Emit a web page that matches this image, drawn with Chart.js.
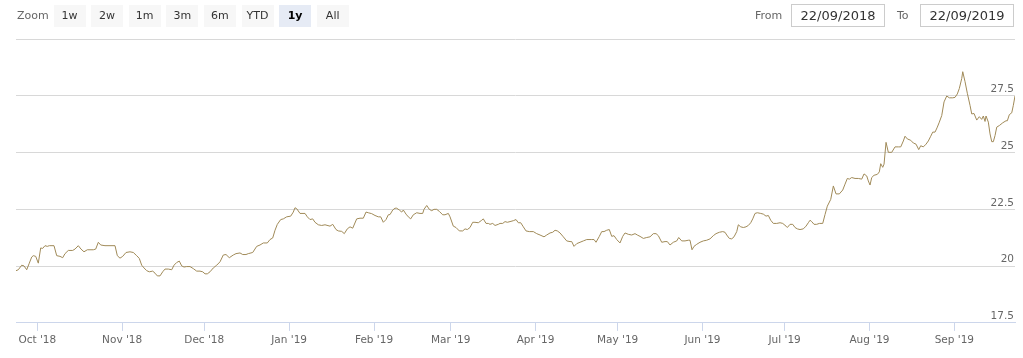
<!DOCTYPE html>
<html>
<head>
<meta charset="utf-8">
<script src="https://cdn.jsdelivr.net/npm/chart.js@4.4.1/dist/chart.umd.min.js"></script>
<style>
  html, body { margin: 0; padding: 0; background: #fff; }
  #wrap { position: relative; width: 1023px; height: 358px; overflow: hidden; font-family: "DejaVu Sans", Verdana, sans-serif; }
  #c { position: absolute; left: 0; top: 0; }
  .lbl { position: absolute; top: 5px; height: 22px; line-height: 22px; font-size: 11px; color: #666; }
  .btn { position: absolute; top: 5px; width: 32px; height: 22px; line-height: 22px; text-align: center; font-size: 11px; color: #333; background: #f7f7f7; }
  .btn.sel { background: #e6ebf5; color: #000; font-weight: bold; }
  .inp { position: absolute; top: 4px; width: 92px; height: 21px; line-height: 21px; border: 1px solid #cccccc; text-align: center; font-size: 13px; color: #333; }
</style>
</head>
<body>
<div id="wrap">
  <canvas id="c" width="1023" height="358"></canvas>
  <div class="lbl" style="left:17px;">Zoom</div>
  <div id="btns"></div>
  <div class="lbl" style="left:755px;">From</div>
  <div class="inp" style="left:791px;">22/09/2018</div>
  <div class="lbl" style="left:897px;">To</div>
  <div class="inp" style="left:920px;">22/09/2019</div>
</div>
<script>
// ---- data (days since 22 Sep 2018, price) ----
const days = [
1.22,2.06,3.30,4.14,5.13,6.08,6.96,7.54,8.42,9.37,10.24,10.97,11.81,12.65,13.39,15.10,16.09,17.29,18.28,19.12,
20.33,21.93,22.77,23.98,24.97,26.06,27.27,29.46,30.34,31.29,32.16,33.73,35.56,37.39,38.23,39.21,40.20,41.40,42.87,44.07,
45.31,46.26,47.14,47.98,48.97,49.92,51.16,52.00,52.84,53.83,54.81,55.65,56.86,58.10,58.94,59.93,60.88,61.75,62.59,63.58,
64.79,65.99,67.23,68.44,69.43,70.27,71.11,72.09,73.30,74.54,75.75,76.95,77.94,79.14,80.60,81.59,83.05,84.04,85.24,86.08,
87.69,89.15,90.36,91.56,93.02,94.01,95.00,95.84,96.68,97.92,98.87,100.11,101.57,102.52,103.14,103.76,104.97,106.80,107.64,108.62,
109.61,110.45,111.66,112.90,114.10,115.93,116.92,118.12,118.96,120.20,121.15,122.25,123.24,124.22,125.68,126.89,128.10,129.08,129.92,131.16,
132.37,133.58,134.45,135.40,136.39,137.23,137.85,138.84,139.68,140.30,141.25,142.12,142.71,143.70,144.53,145.41,146.36,147.60,148.81,149.79,
150.27,151.26,152.21,153.08,153.92,154.91,155.86,157.10,157.94,159.15,159.77,160.97,161.96,163.17,164.41,165.25,166.09,167.08,168.06,168.90,
170.11,171.35,171.93,172.92,173.76,174.38,175.37,176.21,177.41,178.03,179.02,179.86,180.70,181.69,182.89,183.88,184.72,185.60,186.55,187.53,
188.74,190.20,191.44,192.65,194.11,195.10,196.30,197.29,198.13,198.97,199.96,201.16,202.40,203.61,204.23,205.07,206.06,207.26,208.47,209.71,
211.54,212.38,213.10,214.31,215.19,216.03,217.01,217.96,218.84,219.68,220.67,221.87,222.86,223.70,224.90,226.15,227.35,228.19,229.18,230.39,
231.63,232.83,234.04,235.03,235.87,237.11,238.31,239.15,240.14,241.34,242.59,243.32,244.41,245.62,246.82,247.44,248.17,248.90,249.89,251.10,
252.30,253.54,254.75,255.95,256.94,258.15,259.39,260.23,260.85,261.80,262.68,263.52,264.51,265.09,265.97,266.92,267.90,268.74,269.62,270.35,
271.19,272.03,273.27,274.22,275.21,276.05,276.92,277.88,279.12,280.33,281.31,282.52,282.99,283.98,284.96,285.80,286.64,287.63,288.83,289.82,
290.66,291.28,291.90,292.74,293.73,294.68,295.92,296.76,297.60,298.85,299.80,300.78,301.99,303.23,304.07,304.91,305.64,306.52,307.72,308.93,
310.17,311.01,312.00,312.58,313.20,313.82,314.66,315.87,316.60,317.11,317.84,318.32,319.05,319.89,321.13,322.33,323.54,324.42,325.37,325.99,
326.83,328.07,329.02,330.01,330.99,331.72,332.67,333.66,334.50,335.38,336.11,336.95,337.79,338.52,339.40,340.24,341.22,342.17,343.41,344.25,
345.09,345.82,346.70,347.07,347.91,348.75,349.73,350.35,351.19,352.18,353.13,354.00,354.59,355.21,355.58,356.42,357.04,357.66,358.25,358.87,
359.49,360.44,361.68,362.88,363.36,364.09,364.97,365.55,366.16
];
const prices = [
19.80,19.84,20.04,20.01,19.84,20.13,20.40,20.46,20.43,20.13,20.80,20.78,20.90,20.87,20.90,20.90,20.46,20.43,20.37,20.55,
20.69,20.69,20.75,20.90,20.75,20.63,20.72,20.72,20.75,21.05,20.93,20.90,20.90,20.90,20.46,20.35,20.43,20.60,20.63,20.60,
20.46,20.34,20.04,19.92,19.80,19.75,19.78,19.69,19.57,19.57,19.75,19.87,19.87,19.84,20.04,20.16,20.22,20.01,19.96,19.98,
19.98,19.89,19.78,19.78,19.75,19.66,19.66,19.75,19.92,20.04,20.19,20.49,20.51,20.37,20.49,20.55,20.58,20.51,20.51,20.55,
20.60,20.87,20.93,21.02,21.02,21.17,21.24,21.58,21.84,22.05,22.08,22.17,22.20,22.38,22.57,22.53,22.32,22.32,22.17,22.05,
22.08,21.93,21.82,21.79,21.82,21.76,21.84,21.61,21.55,21.53,21.43,21.64,21.73,21.67,22.08,22.11,22.11,22.38,22.35,22.31,
22.23,22.17,22.17,21.93,22.05,22.26,22.27,22.47,22.55,22.55,22.47,22.38,22.47,22.29,22.17,22.08,22.26,22.35,22.32,22.32,
22.50,22.67,22.50,22.44,22.50,22.50,22.41,22.26,22.26,22.32,22.17,21.76,21.70,21.55,21.55,21.64,21.61,21.70,21.93,21.93,
21.91,22.02,22.08,21.88,21.88,21.84,21.88,21.79,21.84,21.88,21.88,21.96,21.93,21.96,22.00,22.05,21.91,21.91,21.73,21.55,
21.52,21.52,21.43,21.37,21.29,21.37,21.46,21.49,21.58,21.55,21.46,21.29,21.11,21.08,21.08,20.87,20.99,21.05,21.11,21.17,
21.17,21.17,21.05,21.31,21.52,21.52,21.58,21.61,21.31,21.34,21.17,21.02,21.31,21.46,21.40,21.37,21.43,21.37,21.31,21.22,
21.26,21.29,21.43,21.43,21.34,21.05,21.08,21.08,20.93,21.05,21.11,21.26,21.11,21.11,21.14,21.14,20.72,20.87,20.96,21.05,
21.11,21.14,21.20,21.34,21.43,21.49,21.52,21.49,21.37,21.22,21.20,21.29,21.52,21.82,21.73,21.70,21.73,21.79,21.91,22.08,
22.32,22.35,22.32,22.29,22.20,22.23,22.02,21.88,21.88,21.91,21.88,21.76,21.70,21.84,21.84,21.70,21.64,21.61,21.64,21.76,
21.91,22.02,21.96,21.84,21.84,21.88,21.88,22.27,22.64,22.94,23.53,23.18,23.18,23.35,23.61,23.86,23.83,23.90,23.86,23.86,
23.83,24.06,23.97,23.75,23.57,23.90,24.00,24.04,24.15,24.51,24.35,24.49,25.45,25.01,25.01,25.25,25.25,25.25,25.51,25.72,
25.60,25.54,25.42,25.37,25.13,25.30,25.25,25.37,25.51,25.72,25.90,25.90,26.12,26.34,26.63,27.23,27.49,27.41,27.41,27.43,
27.58,27.82,28.26,28.56,28.12,27.61,27.08,26.70,26.72,26.43,26.58,26.46,26.61,26.37,26.61,26.34,25.82,25.48,25.48,25.75,
26.12,26.19,26.31,26.40,26.40,26.67,26.75,27.08,27.49
];
const monthDays = [9, 40, 70, 101, 132, 160, 191, 221, 252, 282, 313, 344];
const monthLabels = ["Oct '18", "Nov '18", "Dec '18", "Jan '19", "Feb '19", "Mar '19", "Apr '19", "May '19", "Jun '19", "Jul '19", "Aug '19", "Sep '19"];
const yTicks = [17.5, 20, 22.5, 25, 27.5, 30];
const yTickLabels = ["17.5", "20", "22.5", "25", "27.5", ""];
const zoomButtons = ["1w", "2w", "1m", "3m", "6m", "YTD", "1y", "All"];
const selectedButton = "1y";

// ---- range selector buttons ----
const btnWrap = document.getElementById('btns');
zoomButtons.forEach((b, i) => {
  const d = document.createElement('div');
  d.className = 'btn' + (b === selectedButton ? ' sel' : '');
  d.style.left = (53.5 + i * 37.6) + 'px';
  d.textContent = b;
  btnWrap.appendChild(d);
});

const points = days.map((d, i) => ({ x: d, y: prices[i] }));

new Chart(document.getElementById('c'), {
  type: 'line',
  data: {
    datasets: [{
      data: points,
      borderColor: '#a08a58',
      borderWidth: 1,
      pointRadius: 0,
      tension: 0,
      fill: false
    }]
  },
  options: {
    responsive: false,
    devicePixelRatio: 1,
    animation: false,
    events: [],
    layout: { padding: { left: 16, right: 8, top: 39, bottom: 8.5 } },
    plugins: { legend: { display: false }, tooltip: { enabled: false } },
    scales: {
      x: {
        type: 'linear',
        min: days[0],
        max: days[days.length - 1],
        afterBuildTicks: (scale) => { scale.ticks = monthDays.map(v => ({ value: v })); },
        ticks: {
          autoSkip: false,
          maxRotation: 0,
          padding: 3,
          color: '#666666',
          font: { family: 'DejaVu Sans', size: 10.5 },
          callback: (v, i) => monthLabels[i]
        },
        grid: { display: true, drawOnChartArea: false, drawTicks: true, tickLength: 8, color: '#ccd6eb' },
        border: { display: true, color: '#ccd6eb', width: 1 }
      },
      y: {
        type: 'linear',
        position: 'right',
        min: yTicks[0],
        max: yTicks[yTicks.length - 1],
        afterBuildTicks: (scale) => { scale.ticks = yTicks.map(v => ({ value: v })); },
        ticks: {
          mirror: true,
          padding: -1,
          labelOffset: -6.5,
          color: '#666666',
          font: { family: 'DejaVu Sans', size: 10.5 },
          callback: (v, i) => yTickLabels[i]
        },
        grid: { color: '#d8d8d8', drawTicks: false },
        border: { display: false }
      }
    }
  }
});
</script>
</body>
</html>
